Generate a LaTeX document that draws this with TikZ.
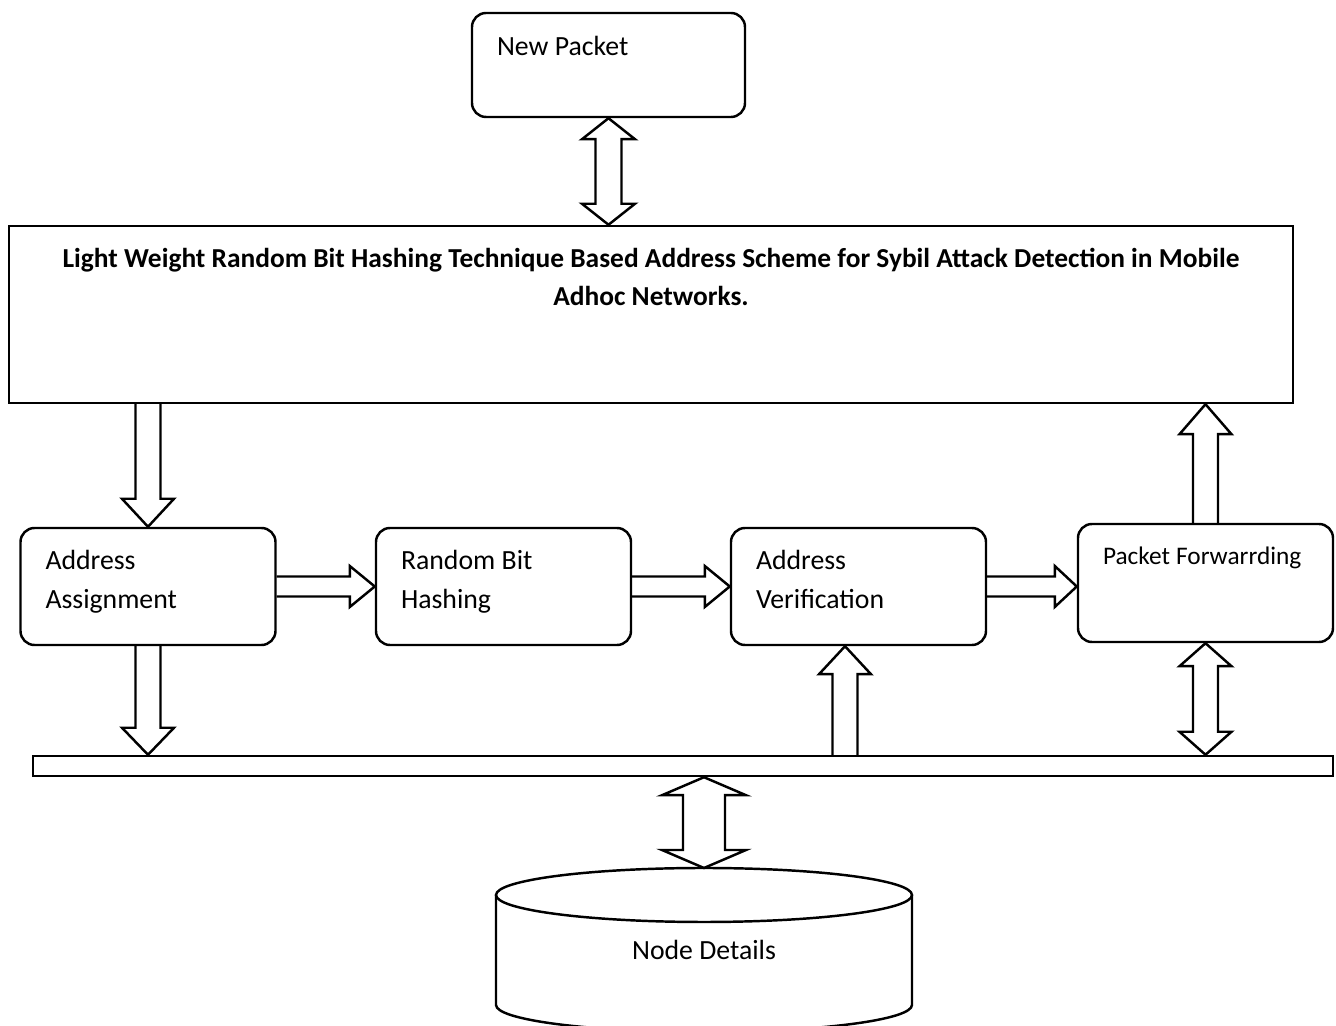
\documentclass[tikz,border=0pt]{standalone}
\usepackage{fontspec}
\setmainfont{Carlito}
\usetikzlibrary{calc}

\DeclareRobustCommand{\boxfont}{\fontsize{7.9}{11}\selectfont}

\tikzset{
  arrshaft/.store in=\shaftw, arrhead/.store in=\headw, arrlen/.store in=\headl,
  arrshaft=0.125cm, arrhead=0.26cm, arrlen=0.28cm,
  flat/.style={arrshaft=0.1cm, arrhead=0.205cm, arrlen=0.25cm},
  blk/.style={draw, line width=0.7pt, line join=miter},
  box/.style={draw, line width=0.7pt, rounded corners=0.14cm,
    inner xsep=0.25cm, font=\boxfont,
    execute at begin node={\spaceskip=0.23em plus 0.1em\relax}},
  stepbox/.style={box, text width=2.05cm, minimum height=1.17cm,
    text height=0.2cm, text depth=0.53cm},
}

% hollow block arrow, one head
\newcommand{\fatarrow}[3][]{%
  \path[#1] ($(#3)!\headl!(#2)$) coordinate (hb);
  \draw[blk,#1] ($(#2)!\shaftw!90:(#3)$) -- ($(hb)!\shaftw!90:(#3)$)
    -- ($(hb)!\headw!90:(#3)$) -- (#3) -- ($(hb)!\headw!-90:(#3)$)
    -- ($(hb)!\shaftw!-90:(#3)$) -- ($(#2)!\shaftw!-90:(#3)$);
}
% hollow block arrow, two heads
\newcommand{\fatdarrow}[3][]{%
  \path[#1] ($(#2)!\headl!(#3)$) coordinate (hb1) ($(#3)!\headl!(#2)$) coordinate (hb2);
  \draw[blk,#1] (#2) -- ($(hb1)!\headw!90:(#3)$) -- ($(hb1)!\shaftw!90:(#3)$)
    -- ($(hb2)!\shaftw!90:(#3)$) -- ($(hb2)!\headw!90:(#3)$) -- (#3)
    -- ($(hb2)!\headw!-90:(#3)$) -- ($(hb2)!\shaftw!-90:(#3)$)
    -- ($(hb1)!\shaftw!-90:(#3)$) -- ($(hb1)!\headw!-90:(#3)$) -- cycle;
}

\begin{document}
\begin{tikzpicture}
    \useasboundingbox (0,0) rectangle (13.36,-10.26);
    \node[box, text width=2.23cm, minimum height=1.04cm] (np) at (6.085,-0.65) {New Packet\\~};
    \node[draw, line width=0.7pt, minimum width=12.84cm, minimum height=1.77cm, align=center,
      font=\fontsize{7.8}{10.8}\selectfont\bfseries] (main) at (6.51,-3.145)
      {Light Weight Random Bit Hashing Technique Based Address Scheme for Sybil Attack Detection in Mobile\\Adhoc Networks.\\~\\~};
    \node[stepbox] (aa) at (1.48,-5.865) {Address\\Assignment};
    \node[stepbox] (rbh) at (5.035,-5.865) {Random Bit\\Hashing};
    \node[stepbox] (av) at (8.585,-5.865) {Address\\Verification};
    \node[box, text width=2.05cm, minimum height=1.18cm,
      font={\fontsize{7.2}{8.5}\selectfont\centering}] (pf) at (12.055,-5.83) {Packet Forwarrding\\[6.8pt]~};
    \node[draw, line width=0.7pt, minimum width=13cm, minimum height=0.2cm, inner sep=0pt] (bar) at (6.83,-7.66) {};
    \node[font=\boxfont] (db) at (7.04,-9.5) {Node Details};
    % database drum round the Node Details text
    \draw[blk] ([yshift=5.5mm]db.center) ellipse [x radius=2.08cm, y radius=0.27cm];
    \draw[blk] ([shift={(-2.08,0.55)}]db.center) -- ([shift={(-2.08,-0.55)}]db.center)
      arc[start angle=180, end angle=360, x radius=2.08cm, y radius=0.27cm]
      -- ([shift={(2.08,0.55)}]db.center);
    \coordinate (dbtop) at ([yshift=8.2mm]db.center);

    % connectors
    \coordinate (npmain) at (np.south |- main.north);
    \fatdarrow[arrshaft=0.13cm, arrhead=0.265cm, arrlen=0.21cm]{np.south}{npmain}
    \coordinate (mainout) at (aa.north |- main.south);
    \fatarrow{mainout}{aa.north}
    \fatarrow[flat]{aa.east}{rbh.west}
    \fatarrow[flat]{rbh.east}{av.west}
    \coordinate (pfin) at (av.east -| pf.west);
    \fatarrow[flat, arrlen=0.22cm]{av.east}{pfin}
    \coordinate (barin) at (aa.south |- bar.north);
    \fatarrow[arrlen=0.27cm]{aa.south}{barin}
    \coordinate (avin) at ([xshift=-1.35mm]av.south);
    \coordinate (barout) at (avin |- bar.north);
    \fatarrow{barout}{avin}
    \coordinate (mainin) at (pf.north |- main.south);
    \fatarrow[arrlen=0.3cm]{pf.north}{mainin}
    \coordinate (pfbar) at (pf.south |- bar.north);
    \fatdarrow[arrlen=0.23cm]{pf.south}{pfbar}
    \coordinate (bardb) at (dbtop |- bar.south);
    \fatdarrow[arrshaft=0.21cm, arrhead=0.42cm, arrlen=0.18cm]{bardb}{dbtop}
\end{tikzpicture}
\end{document}
